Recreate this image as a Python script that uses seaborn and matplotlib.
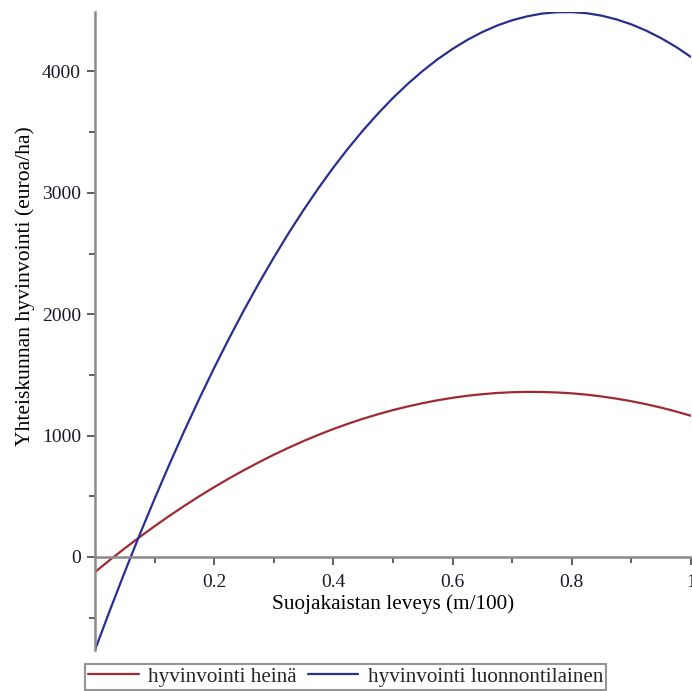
import pandas as pd
import numpy as np
import matplotlib
matplotlib.use("Agg")
import matplotlib.pyplot as plt
import seaborn as sns
from matplotlib.ticker import FixedLocator

# values
leveys = [0.000, 0.025, 0.050, 0.075, 0.100, 0.125, 0.150, 0.175, 0.200, 0.225,
          0.250, 0.275, 0.300, 0.325, 0.350, 0.375, 0.400, 0.425, 0.450, 0.475,
          0.500, 0.525, 0.550, 0.575, 0.600, 0.625, 0.650, 0.675, 0.700, 0.725,
          0.750, 0.775, 0.800, 0.825, 0.850, 0.875, 0.900, 0.925, 0.950, 0.975, 1.000]
heina = [-125, -25, 71, 164, 253, 339, 421, 500, 575, 647,
         715, 780, 842, 900, 955, 1006, 1054, 1098, 1139, 1176,
         1210, 1240, 1267, 1291, 1311, 1328, 1341, 1351, 1357, 1360,
         1359, 1355, 1348, 1337, 1322, 1304, 1283, 1258, 1230, 1198, 1163]
luonnontilainen = [-767, -440, -123, 184, 479, 765, 1040, 1304, 1558, 1801,
                   2034, 2256, 2467, 2669, 2859, 3039, 3209, 3368, 3516, 3654,
                   3782, 3899, 4005, 4101, 4186, 4261, 4325, 4379, 4422, 4454,
                   4477, 4488, 4489, 4480, 4460, 4429, 4388, 4336, 4274, 4202, 4119]
series_names = ["hyvinvointi heinä", "hyvinvointi luonnontilainen"]
x_ticks = [0.2, 0.4, 0.6, 0.8, 1.0]
x_tick_labels = ["0.2", "0.4", "0.6", "0.8", "1"]
x_minor = [0.1, 0.3, 0.5, 0.7, 0.9]
y_ticks = [0, 1000, 2000, 3000, 4000]
y_minor = [-500, 500, 1500, 2500, 3500]

df = pd.DataFrame({
    "x": leveys * 2,
    "y": heina + luonnontilainen,
    "sarja": [series_names[0]] * len(leveys) + [series_names[1]] * len(leveys),
})

sns.set_theme(style="white")
plt.rcParams["font.family"] = ["Liberation Serif", "DejaVu Serif"]

fig = plt.figure(figsize=(6.92, 6.91), dpi=100)
W, H = 692, 691
ax = fig.add_axes([95 / W, 1 - 650 / H, (691 - 95) / W, (650 - 12) / H])

palette = {series_names[0]: "#9e2a32", series_names[1]: "#27308e"}
sns.lineplot(data=df, x="x", y="y", hue="sarja", palette=palette,
             linewidth=1.6, ax=ax, legend=True)

ax.set_xlim(0, 1)
ax.set_ylim(-767, 4490)

# Maple style: axes cross at the origin
for s in ["top", "right"]:
    ax.spines[s].set_visible(False)
ax.spines["bottom"].set_position(("data", 0))
for s in ["left", "bottom"]:
    ax.spines[s].set_color("#8a8a8a")
    ax.spines[s].set_linewidth(1.8)

ax.xaxis.set_major_locator(FixedLocator(x_ticks))
ax.set_xticklabels(x_tick_labels)
ax.xaxis.set_minor_locator(FixedLocator(x_minor))
ax.yaxis.set_major_locator(FixedLocator(y_ticks))
ax.yaxis.set_minor_locator(FixedLocator(y_minor))

ax.tick_params(axis="both", which="major", direction="out", length=6, width=1.2,
               color="#444444", labelsize=14, labelcolor="#1a1a2a", pad=4,
               bottom=True, left=True)
ax.tick_params(axis="both", which="minor", direction="out", length=4, width=1.2,
               color="#444444", bottom=True, left=True)
ax.tick_params(axis="x", which="major", pad=6)

ax.set_xlabel("Suojakaistan leveys (m/100)", fontsize=15.3, color="black")
ax.xaxis.set_label_coords(0.5, 0.088)
ax.set_ylabel("Yhteiskunnan hyvinvointi (euroa/ha)", fontsize=15.6, color="black")
ax.yaxis.set_label_coords(-0.1, 0.57)

sns.move_legend(ax, "lower left", bbox_to_anchor=(85 / W, 1 / H),
                bbox_transform=fig.transFigure, ncol=2, title=None,
                frameon=True, fontsize=15.2, handlelength=2.4,
                columnspacing=0.5, handletextpad=0.45, borderpad=0.15,
                fancybox=False, borderaxespad=0)
leg = ax.get_legend()
leg.get_frame().set_edgecolor("#7a7a7a")
leg.get_frame().set_linewidth(1.5)

fig.savefig("out.png", dpi=100)
